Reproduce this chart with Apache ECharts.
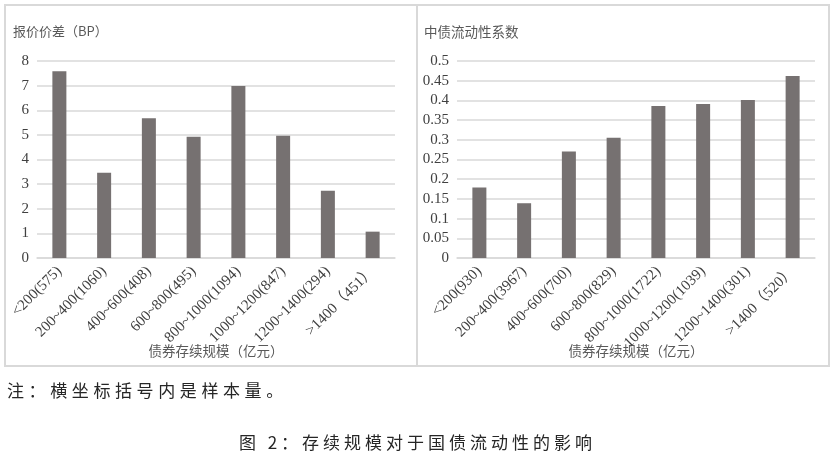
<!DOCTYPE html>
<html><head><meta charset="utf-8">
<script src="https://cdn.jsdelivr.net/npm/echarts@6/dist/echarts.min.js"></script>
<style>
html,body{margin:0;padding:0;background:#fff;}
#wrap{position:relative;width:835px;height:457px;overflow:hidden;background:#fff;}
#chart{position:absolute;left:0;top:0;width:835px;height:457px;}
.note{position:absolute;left:7px;top:379px;font-family:"Noto Sans CJK SC",sans-serif;font-size:17px;letter-spacing:4.6px;color:#262626;line-height:22px;white-space:nowrap;}
.cap{position:absolute;left:0;top:431px;width:835px;text-align:center;font-family:"Noto Sans CJK SC",sans-serif;font-size:17px;letter-spacing:4px;color:#262626;line-height:22px;white-space:nowrap;}
</style>
</head><body>
<div id="wrap">
<div id="chart"></div>
<div class="note">注：横坐标括号内是样本量。</div>
<div class="cap">图 2：存续规模对于国债流动性的影响</div>
</div>
<script>
var leftCategories = ['<200(575)','200~400(1060)','400~600(408)','600~800(495)','800~1000(1094)','1000~1200(847)','1200~1400(294)','>1400（451）'];
var leftValues = [7.58, 3.46, 5.68, 4.92, 6.98, 4.96, 2.73, 1.07];
var rightCategories = ['<200(930)','200~400(3967)','400~600(700)','600~800(829)','800~1000(1722)','1000~1200(1039)','1200~1400(301)','>1400（520）'];
var rightValues = [0.179, 0.139, 0.270, 0.305, 0.386, 0.391, 0.401, 0.462];
var leftTitle = '报价价差（BP）';
var rightTitle = '中债流动性系数';
var xName = '债券存续规模（亿元）';

var serif = '"Liberation Serif","Times New Roman","Noto Sans CJK SC",serif';
var cjk = '"Noto Sans CJK SC",sans-serif';
var gridColor = '#d9d9d9';
var barColor = '#767171';

function xAxisCfg(idx, cats){
  return {
    type:'category', gridIndex:idx, data:cats, boundaryGap:true,
    axisTick:{show:false},
    axisLine:{show:true, lineStyle:{color:gridColor, width:1.5}},
    axisLabel:{rotate:45, interval:0, fontSize:15, fontFamily:serif, color:'#404040', margin:11},
    name:xName, nameLocation:'middle', nameGap:86, nameMoveOverlap:false,
    nameTextStyle:{color:'#595959', fontSize:13.5, fontFamily:cjk}
  };
}
function yAxisCfg(idx, max, interval, fmt){
  return {
    type:'value', gridIndex:idx, min:0, max:max, interval:interval,
    axisLine:{show:false}, axisTick:{show:false},
    splitLine:{show:true, lineStyle:{color:gridColor, width:1.5}},
    axisLabel:{fontSize:15, fontFamily:serif, color:'#404040', margin:8, formatter:fmt}
  };
}

var chart = echarts.init(document.getElementById('chart'));
chart.setOption({
  animation:false,
  backgroundColor:'#fff',
  grid:[
    {left:37, top:61, width:358, height:197},
    {left:457, top:61, width:358, height:197}
  ],
  xAxis:[xAxisCfg(0, leftCategories), xAxisCfg(1, rightCategories)],
  yAxis:[
    yAxisCfg(0, 8, 1, function(v){return String(v);}),
    yAxisCfg(1, 0.5, 0.05, function(v){return String(parseFloat(v.toFixed(2)));})
  ],
  series:[
    {type:'bar', xAxisIndex:0, yAxisIndex:0, data:leftValues, barWidth:14, itemStyle:{color:barColor}},
    {type:'bar', xAxisIndex:1, yAxisIndex:1, data:rightValues, barWidth:14, itemStyle:{color:barColor}}
  ],
  graphic:[
    {type:'rect', shape:{x:5, y:5, width:412, height:361}, style:{fill:'none', stroke:gridColor, lineWidth:2}, z:-1},
    {type:'rect', shape:{x:417, y:5, width:412, height:361}, style:{fill:'none', stroke:gridColor, lineWidth:2}, z:-1},
    {type:'text', left:13, top:25, style:{text:leftTitle, font:'13px '+cjk, fill:'#595959'}},
    {type:'text', left:424, top:25, style:{text:rightTitle, font:'13.5px '+cjk, fill:'#595959'}}
  ]
});
</script>
</body></html>
